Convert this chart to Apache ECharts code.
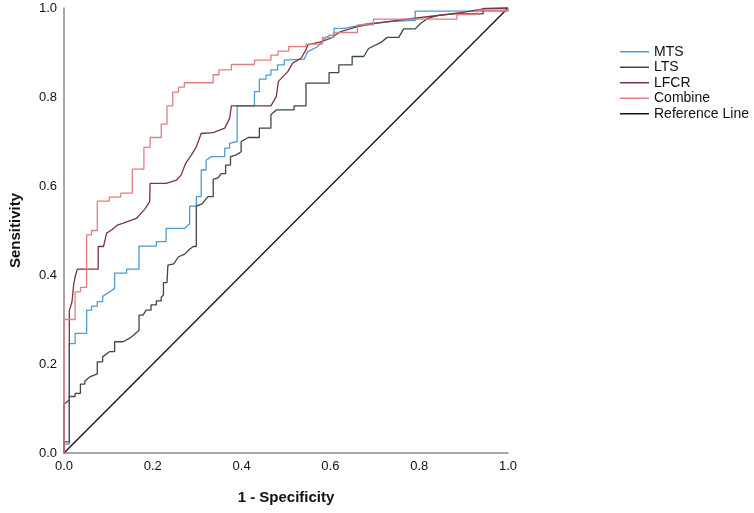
<!DOCTYPE html>
<html>
<head>
<meta charset="utf-8">
<script src="https://cdn.jsdelivr.net/npm/echarts@6/dist/echarts.min.js"></script>
<style>
html,body{margin:0;padding:0;background:#fff;}
#chart{width:754px;height:513px;}
</style>
</head>
<body>
<div id="chart"></div>
<script>
const seriesNames = ['MTS', 'LTS', 'LFCR', 'Combine', 'Reference Line'];
const tickValues = [0, 0.2, 0.4, 0.6, 0.8, 1.0];

const mtsPoints = [[0,0],[0,0.02],[0.012,0.02],[0.012,0.246],[0.025,0.246],[0.025,0.269],[0.051,0.269],[0.051,0.321],[0.062,0.321],[0.062,0.330],[0.075,0.330],[0.075,0.340],[0.087,0.340],[0.087,0.352],[0.1,0.36],[0.114,0.37],[0.114,0.404],[0.141,0.404],[0.141,0.413],[0.169,0.413],[0.169,0.465],[0.208,0.465],[0.208,0.475],[0.230,0.475],[0.230,0.505],[0.272,0.505],[0.283,0.515],[0.283,0.555],[0.298,0.555],[0.298,0.576],[0.309,0.576],[0.309,0.636],[0.320,0.636],[0.320,0.658],[0.332,0.666],[0.362,0.666],[0.362,0.685],[0.373,0.685],[0.373,0.696],[0.39,0.700],[0.39,0.780],[0.429,0.780],[0.429,0.812],[0.440,0.812],[0.440,0.840],[0.455,0.840],[0.455,0.849],[0.466,0.849],[0.466,0.861],[0.481,0.861],[0.481,0.872],[0.496,0.872],[0.496,0.883],[0.541,0.885],[0.549,0.902],[0.571,0.913],[0.586,0.930],[0.597,0.939],[0.608,0.939],[0.608,0.954],[0.631,0.954],[0.683,0.965],[0.739,0.970],[0.791,0.972],[0.791,0.993],[1,0.993],[1,1]];

const ltsPoints = [[0,0],[0,0.11],[0.012,0.119],[0.012,0.127],[0.025,0.127],[0.025,0.134],[0.037,0.134],[0.037,0.155],[0.047,0.155],[0.047,0.162],[0.058,0.171],[0.075,0.178],[0.075,0.205],[0.087,0.205],[0.087,0.216],[0.103,0.228],[0.114,0.228],[0.114,0.250],[0.133,0.250],[0.148,0.258],[0.157,0.265],[0.161,0.269],[0.169,0.276],[0.169,0.310],[0.178,0.310],[0.185,0.321],[0.196,0.321],[0.196,0.333],[0.208,0.333],[0.208,0.342],[0.219,0.342],[0.219,0.350],[0.224,0.355],[0.224,0.383],[0.232,0.383],[0.234,0.422],[0.247,0.425],[0.258,0.441],[0.272,0.447],[0.283,0.458],[0.291,0.464],[0.298,0.464],[0.298,0.555],[0.311,0.560],[0.324,0.576],[0.336,0.576],[0.336,0.615],[0.347,0.618],[0.354,0.628],[0.364,0.628],[0.364,0.647],[0.375,0.647],[0.375,0.666],[0.388,0.670],[0.399,0.677],[0.399,0.700],[0.415,0.709],[0.440,0.709],[0.440,0.730],[0.466,0.730],[0.466,0.760],[0.478,0.771],[0.518,0.771],[0.518,0.780],[0.545,0.780],[0.545,0.831],[0.597,0.831],[0.597,0.855],[0.619,0.855],[0.619,0.872],[0.649,0.872],[0.649,0.891],[0.675,0.891],[0.686,0.909],[0.713,0.922],[0.728,0.934],[0.754,0.934],[0.765,0.953],[0.791,0.953],[0.803,0.965],[0.818,0.976],[0.840,0.983],[0.877,0.987],[0.944,0.987],[0.944,0.999],[1,1]];

const lfcrPoints = [[0,0],[0,0.025],[0.012,0.025],[0.012,0.32],[0.018,0.34],[0.022,0.38],[0.026,0.40],[0.03,0.413],[0.077,0.413],[0.077,0.464],[0.089,0.464],[0.096,0.494],[0.107,0.501],[0.12,0.512],[0.132,0.516],[0.163,0.527],[0.182,0.548],[0.193,0.565],[0.194,0.606],[0.230,0.606],[0.253,0.613],[0.264,0.625],[0.274,0.651],[0.287,0.670],[0.298,0.688],[0.309,0.718],[0.336,0.720],[0.362,0.730],[0.373,0.752],[0.377,0.780],[0.466,0.780],[0.478,0.801],[0.483,0.835],[0.504,0.857],[0.515,0.876],[0.534,0.887],[0.545,0.906],[0.549,0.917],[0.578,0.924],[0.601,0.932],[0.623,0.947],[0.661,0.958],[0.698,0.965],[0.758,0.973],[0.832,0.982],[0.899,0.99],[0.944,0.998],[1,1]];

const combinePoints = [[0,0],[0,0.30],[0.025,0.30],[0.025,0.362],[0.037,0.362],[0.037,0.372],[0.051,0.372],[0.051,0.49],[0.062,0.49],[0.062,0.50],[0.075,0.50],[0.075,0.566],[0.102,0.566],[0.102,0.575],[0.128,0.575],[0.128,0.584],[0.154,0.584],[0.154,0.638],[0.180,0.638],[0.180,0.687],[0.194,0.687],[0.194,0.709],[0.219,0.709],[0.219,0.739],[0.232,0.739],[0.232,0.780],[0.245,0.780],[0.245,0.811],[0.258,0.811],[0.258,0.822],[0.271,0.822],[0.271,0.832],[0.336,0.832],[0.336,0.850],[0.349,0.850],[0.349,0.861],[0.377,0.861],[0.377,0.873],[0.429,0.873],[0.429,0.883],[0.466,0.883],[0.466,0.894],[0.482,0.894],[0.482,0.903],[0.506,0.903],[0.506,0.913],[0.545,0.913],[0.545,0.919],[0.582,0.919],[0.582,0.934],[0.608,0.934],[0.608,0.945],[0.661,0.945],[0.661,0.962],[0.697,0.962],[0.697,0.975],[0.885,0.975],[0.885,0.985],[0.93,0.985],[0.93,0.995],[1,0.995],[1,1]];

const referencePoints = [[0,0],[1,1]];

const seriesData = [mtsPoints, ltsPoints, lfcrPoints, combinePoints, referencePoints];
const seriesColors = ['#4d9bd0', '#3a4650', '#7a3545', '#e17e83', '#111111'];

const chart = echarts.init(document.getElementById('chart'), null, {renderer: 'canvas'});

const axisCommon = {
  type: 'value', min: 0, max: 1, interval: 0.2,
  splitLine: {show: false},
  axisTick: {show: false},
  axisLine: {show: true, lineStyle: {color: '#8a8a8a', width: 1.5}},
  axisLabel: {color: '#111', fontSize: 13, fontFamily: 'Arial, "Liberation Sans", sans-serif', margin: 7,
    formatter: v => v.toFixed(1)},
  nameLocation: 'middle',
  nameTextStyle: {color: '#111', fontSize: 15, fontWeight: 'bold', fontFamily: 'Arial, "Liberation Sans", sans-serif'}
};

chart.setOption({
  animation: false,
  backgroundColor: '#fff',
  grid: {left: 62, top: 8, right: 246, bottom: 60, containLabel: false},
  xAxis: Object.assign({}, axisCommon, {name: '1 - Specificity', nameGap: 37}),
  yAxis: Object.assign({}, axisCommon, {name: 'Sensitivity', nameGap: 41}),
  legend: {
    orient: 'vertical', left: 615, top: 39,
    icon: 'rect', itemWidth: 29, itemHeight: 1.5, itemGap: 0,
    textStyle: {color: '#111', fontSize: 14, lineHeight: 15.5, fontFamily: 'Arial, "Liberation Sans", sans-serif'},
    data: seriesNames
  },
  series: seriesNames.map((name, i) => ({
    name: name,
    type: 'line',
    data: seriesData[i],
    showSymbol: false,
    symbol: 'none',
    color: seriesColors[i],
    lineStyle: {color: seriesColors[i], width: 1.3},
    z: i === 4 ? 1 : 2 + i
  }))
});
</script>
</body>
</html>
